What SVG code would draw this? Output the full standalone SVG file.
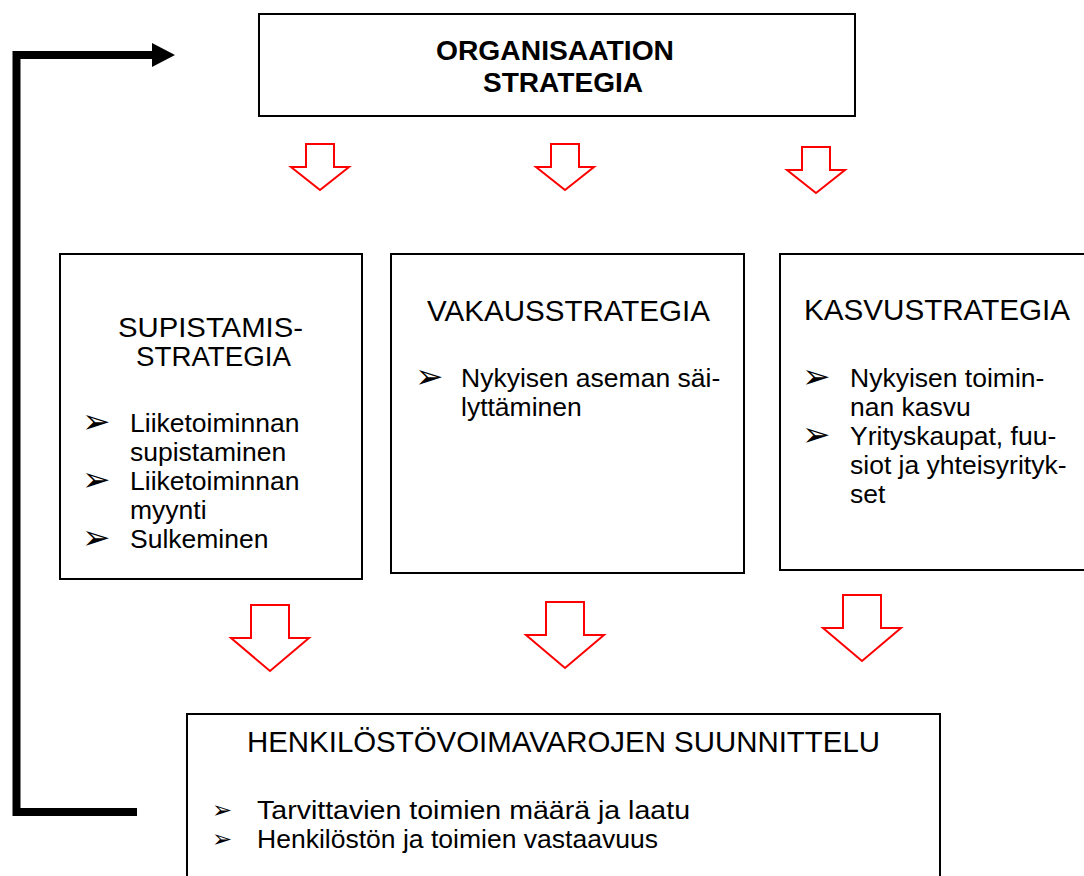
<svg xmlns="http://www.w3.org/2000/svg" width="1084" height="876" viewBox="0 0 1084 876">
<style>
.box{fill:#fff;stroke:#000;stroke-width:2}
.title{font-family:"Liberation Sans",Arial,sans-serif;font-size:30px;fill:#000}
.title2{font-family:"Liberation Sans",Arial,sans-serif;font-size:27px;fill:#000}
.btitle{font-family:"Liberation Sans",Arial,sans-serif;font-size:27px;font-weight:bold;fill:#000}
.txt{font-family:"Liberation Sans",Arial,sans-serif;font-size:26.5px;fill:#000}
.bul{font-family:"DejaVu Sans",sans-serif;font-size:34px;fill:#000}
.bul2{font-family:"DejaVu Sans",sans-serif;font-size:24px;fill:#000}
.ra{fill:#fff;stroke:#f00;stroke-width:2;stroke-linejoin:miter}
.fb{fill:none;stroke:#000;stroke-width:8;stroke-linejoin:miter}
</style>
<defs>
<polygon id="sa" points="-14,-46 14,-46 14,-23 29,-23 0,0 -29,-23 -14,-23"/>
<polygon id="ba" points="-19,-66 19,-66 19,-33 39,-33 0,0 -39,-33 -19,-33"/>
</defs>
<g id="connectors">
<path class="fb" d="M137,812 H16.5 V55 H153"/>
<polygon points="152,43 175,55 152,67" fill="#000"/>
<use href="#sa" class="ra" transform="translate(320,190)"/>
<use href="#sa" class="ra" transform="translate(565,190)"/>
<use href="#sa" class="ra" transform="translate(816,193)"/>
<use href="#ba" class="ra" transform="translate(270,671)"/>
<use href="#ba" class="ra" transform="translate(565,668)"/>
<use href="#ba" class="ra" transform="translate(862,661)"/>
</g>
<g id="org">
<rect class="box" x="259" y="14" width="596" height="102"/>
<text class="btitle" x="436" y="60" textLength="238" lengthAdjust="spacingAndGlyphs">ORGANISAATION</text>
<text class="btitle" x="483" y="92" textLength="160" lengthAdjust="spacingAndGlyphs">STRATEGIA</text>
</g>
<g id="supistamis">
<rect class="box" x="60" y="254" width="302" height="325"/>
<text class="title2" x="118" y="337" textLength="185" lengthAdjust="spacingAndGlyphs">SUPISTAMIS-</text>
<text class="title2" x="136" y="366" textLength="155" lengthAdjust="spacingAndGlyphs">STRATEGIA</text>
<text class="bul" x="82" y="433">➢</text>
<text class="txt" x="130" y="432">Liiketoiminnan</text>
<text class="txt" x="130" y="461">supistaminen</text>
<text class="bul" x="82" y="491">➢</text>
<text class="txt" x="130" y="490">Liiketoiminnan</text>
<text class="txt" x="130" y="519">myynti</text>
<text class="bul" x="82" y="549">➢</text>
<text class="txt" x="130" y="548">Sulkeminen</text>
</g>
<g id="vakaus">
<rect class="box" x="391" y="254" width="353" height="319"/>
<text class="title" x="427" y="321" textLength="283" lengthAdjust="spacingAndGlyphs">VAKAUSSTRATEGIA</text>
<text class="bul" x="415" y="388">➢</text>
<text class="txt" x="461" y="387">Nykyisen aseman säi-</text>
<text class="txt" x="461" y="416">lyttäminen</text>
</g>
<g id="kasvu">
<rect class="box" x="780" y="254" width="306" height="316"/>
<text class="title" x="804" y="320" textLength="266" lengthAdjust="spacingAndGlyphs">KASVUSTRATEGIA</text>
<text class="bul" x="802" y="388">➢</text>
<text class="txt" x="850" y="387">Nykyisen toimin-</text>
<text class="txt" x="850" y="416">nan kasvu</text>
<text class="bul" x="802" y="446">➢</text>
<text class="txt" x="850" y="445">Yrityskaupat, fuu-</text>
<text class="txt" x="850" y="474">siot ja yhteisyrityk-</text>
<text class="txt" x="850" y="503">set</text>
</g>
<g id="henkilosto">
<rect class="box" x="187" y="714" width="753" height="170"/>
<text class="title" x="247" y="752" textLength="633" lengthAdjust="spacingAndGlyphs">HENKILÖSTÖVOIMAVAROJEN SUUNNITTELU</text>
<text class="bul2" x="212" y="818">➢</text>
<text class="txt" x="257" y="819" textLength="433" lengthAdjust="spacingAndGlyphs">Tarvittavien toimien määrä ja laatu</text>
<text class="bul2" x="212" y="847">➢</text>
<text class="txt" x="257" y="848" textLength="401" lengthAdjust="spacingAndGlyphs">Henkilöstön ja toimien vastaavuus</text>
</g>
</svg>
